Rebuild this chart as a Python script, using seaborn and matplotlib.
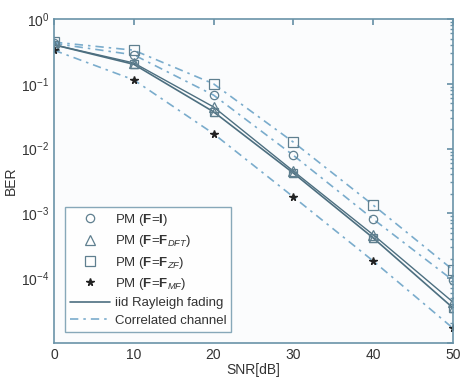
import numpy as np
import pandas as pd
import matplotlib
matplotlib.use("Agg")
import matplotlib.pyplot as plt
from matplotlib.lines import Line2D
import seaborn as sns

sns.set_theme(style="white")
plt.rcParams["font.family"] = ["Liberation Sans", "DejaVu Sans"]
plt.rcParams["mathtext.fontset"] = "custom"
plt.rcParams["mathtext.rm"] = "Liberation Sans"
plt.rcParams["mathtext.bf"] = "Liberation Sans:bold"
plt.rcParams["mathtext.it"] = "Liberation Sans:italic"

# ---- data ----
snr = [0, 10, 20, 30, 40, 50]
ber_zf_corr = [0.44, 0.33, 0.100, 0.0126, 0.00135, 1.35e-4]
ber_i_corr = [0.42, 0.28, 0.067, 0.0079, 0.00082, 9.3e-5]
ber_dft_corr = [0.40, 0.21, 0.044, 0.0045, 0.00047, 4.3e-5]
ber_mf_corr = [0.33, 0.115, 0.017, 0.0018, 0.000185, 1.7e-5]
ber_iid = [0.40, 0.20, 0.037, 0.0042, 0.00042, 3.5e-5]

solid_col = "#4d6f80"
dash_col = "#7aaccc"
mk_col = "#5f7f8f"
spine_col = "#6a93a8"
txt_col = "#333333"

fig = plt.figure(figsize=(4.63, 3.78), dpi=100)
fig.patch.set_facecolor("white")
ax = fig.add_axes([0.1166, 0.0926, 0.8614, 0.8571])
ax.set_facecolor("#fbfcfd")

dash_dot = (0, (5, 3, 1.5, 3))

# correlated channel curves (dash-dot)
for vals in [ber_zf_corr, ber_i_corr, ber_mf_corr]:
    sns.lineplot(x=snr, y=vals, ax=ax, color=dash_col, linestyle=dash_dot, lw=1.2)
# DFT correlated looks close to solid in the picture
sns.lineplot(x=snr, y=ber_dft_corr, ax=ax, color=solid_col, linestyle="-", lw=1.0)
# iid Rayleigh fading
sns.lineplot(x=snr, y=ber_iid, ax=ax, color=solid_col, linestyle="-", lw=1.2)

# markers
mk_kw = dict(markerfacecolor="none", markeredgecolor=mk_col, markeredgewidth=0.9, linestyle="none")
ax.plot(snr, ber_zf_corr, marker="s", markersize=6.5, **mk_kw)
ax.plot(snr, ber_i_corr, marker="o", markersize=6, **mk_kw)
ax.plot(snr, ber_dft_corr, marker="^", markersize=6.5, **mk_kw)
ax.plot(snr, ber_iid, marker="s", markersize=6, **mk_kw)
ax.plot(snr, ber_iid, marker="^", markersize=6, **mk_kw)
ax.plot(snr, ber_mf_corr, marker="*", markersize=5.5, color="#222222", linestyle="none")

ax.set_yscale("log")
ax.set_xlim(0, 50)
ax.set_ylim(1e-5, 1)
ax.set_xticks([0, 10, 20, 30, 40, 50])
ax.set_yticks([1e-5, 1e-4, 1e-3, 1e-2, 1e-1, 1e0])
ax.set_yticklabels(["", r"$10^{-4}$", r"$10^{-3}$", r"$10^{-2}$", r"$10^{-1}$", r"$10^{0}$"])
ax.tick_params(axis="both", which="both", direction="in", top=True, right=True,
               colors=spine_col, labelcolor=txt_col, labelsize=10)
ax.tick_params(which="major", length=4)
ax.tick_params(which="minor", length=2)
for s in ax.spines.values():
    s.set_color(spine_col)
    s.set_linewidth(1.2)

ax.set_xlabel("SNR[dB]", fontsize=10, color=txt_col, labelpad=1)
ax.set_ylabel("BER", fontsize=10, color=txt_col, labelpad=2)

handles = [
    Line2D([], [], marker="o", markersize=6, **mk_kw),
    Line2D([], [], marker="^", markersize=6.5, **mk_kw),
    Line2D([], [], marker="s", markersize=6.5, **mk_kw),
    Line2D([], [], marker="*", markersize=5.5, color="#222222", linestyle="none"),
    Line2D([], [], color=solid_col, lw=1.2),
    Line2D([], [], color=dash_col, lw=1.2, linestyle=dash_dot),
]
labels = [
    r"PM ($\mathbf{F}$=$\mathbf{I}$)",
    r"PM ($\mathbf{F}$=$\mathbf{F}_{DFT}$)",
    r"PM ($\mathbf{F}$=$\mathbf{F}_{ZF}$)",
    r"PM ($\mathbf{F}$=$\mathbf{F}_{MF}$)",
    "iid Rayleigh fading",
    "Correlated channel",
]
leg = ax.legend(handles, labels, loc="lower left", bbox_to_anchor=(0.012, 0.015),
                fontsize=9.5, frameon=True, fancybox=False, borderpad=0.35,
                handlelength=3.0, labelspacing=0.4, handletextpad=0.4)
leg.get_frame().set_edgecolor(spine_col)
leg.get_frame().set_linewidth(1.0)
for t in leg.get_texts():
    t.set_color(txt_col)

fig.savefig("out.png", dpi=100)
